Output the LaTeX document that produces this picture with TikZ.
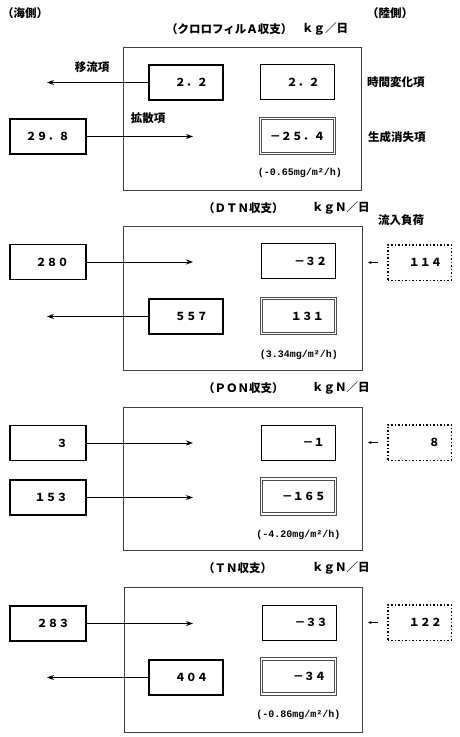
\documentclass[tikz,border=0pt]{standalone}
\usepackage{fontspec}
\usepackage{tikz}
\usetikzlibrary{arrows.meta}
\newfontfamily\jp{Noto Sans CJK JP}
\setmonofont{Liberation Mono}

\begin{document}
\begin{tikzpicture}[x=1pt,y=1pt,yscale=-1,
  font=\jp\bfseries\fontsize{11}{13}\selectfont,
  panel/.style={draw=black!75, line width=0.9pt},
  lftbox/.style={draw, line width=1.7pt, minimum width=76pt, minimum height=35pt, inner sep=0pt},
  midbox/.style={draw, line width=1.7pt, minimum width=74.5pt, minimum height=35.5pt, inner sep=0pt},
  rgtbox/.style={draw, line width=0.8pt, minimum width=74pt, minimum height=35pt, inner sep=0pt},
  dblbox/.style={draw=black!70, line width=0.9pt, double, double distance=1.5pt, minimum width=74pt, minimum height=35pt, inner sep=0pt},
  dotbox/.style={draw, dotted, line width=1.5pt, minimum width=63.5pt, minimum height=35.5pt, inner sep=0pt},
  val/.style={anchor=east, inner sep=0pt},
  tit/.style={anchor=west, inner sep=0pt, font=\jp\bfseries\fontsize{11.5}{13}\selectfont},
  lab/.style={inner sep=0pt, font=\jp\bfseries\fontsize{11.5}{13}\selectfont},
  rate/.style={inner sep=0pt, font=\ttfamily\bfseries\fontsize{10}{12}\selectfont},
  flow/.style={line width=0.9pt, -{Stealth[length=7pt,width=5pt]}},
  inflow/.style={line width=0.8pt, -{Stealth[length=3.5pt,width=3pt]}}]

\useasboundingbox (0,0) rectangle (460,737);

\node[lab] (sea) at (25,13) {（海側）};
\node[lab] (land) at (390,13) {（陸側）};

% chlorophyll a
\node[tit] (t1) at (166,29) {（クロロフィルＡ収支）};
\node[tit] (u1) at (302,29) {ｋｇ／日};
\draw[panel] (123,47) rectangle (361,190);

\node[midbox] (adv1) at (186,82.5) {};
\node[val] (adv1v) at ([xshift=-16]adv1.east) {２．２};
\node[rgtbox] (chg1) at (297.5,82) {};
\node[val] (chg1v) at ([xshift=-15]chg1.east) {２．２};
\node[lftbox] (dif1) at (48,136.5) {};
\node[val] (dif1v) at ([xshift=-17]dif1.east) {２９．８};
\node[dblbox] (gen1) at (297.5,136) {};
\node[val] (gen1v) at ([xshift=-10]gen1.east) {－２５．４};

\node[lab] (advlab) at (92,67) {移流項};
\node[lab] (diflab) at (148,118) {拡散項};
\node[lab, anchor=west] (chglab) at (367,82) {時間変化項};
\node[lab, anchor=west] (genlab) at (368,137) {生成消失項};
\node[rate] (rate1) at (300,173) {(-0.65mg/m²/h)};

\coordinate (adv1tip) at (47,82.5);
\coordinate (dif1tip) at (193,136.5);
\draw[flow] (adv1) -- (adv1tip);
\draw[flow] (dif1) -- (dif1tip);

% DTN
\node[tit] (t2) at (203,208) {（ＤＴＮ収支）};
\node[tit] (u2) at (312,208) {ｋｇＮ／日};
\node[lab] (loadlab) at (401,220) {流入負荷};
\draw[panel] (123,226) rectangle (362,370);

\node[lftbox] (dif2) at (48,262) {};
\node[val] (dif2v) at ([xshift=-18]dif2.east) {２８０};
\node[rgtbox] (chg2) at (298,261) {};
\node[val] (chg2v) at ([xshift=-8]chg2.east) {－３２};
\node[dotbox] (load2) at (419.5,262.5) {};
\node[val] (load2v) at ([xshift=-10]load2.east) {１１４};
\node[midbox] (adv2) at (186,316.5) {};
\node[val] (adv2v) at ([xshift=-16]adv2.east) {５５７};
\node[dblbox] (gen2) at (298.5,316) {};
\node[val] (gen2v) at ([xshift=-12]gen2.east) {１３１};
\node[rate] (rate2) at (299,355) {(3.34mg/m²/h)};

\coordinate (dif2tip) at (193,262);
\coordinate (adv2tip) at (47,316.5);
\coordinate (in2) at (378,262.5);
\coordinate (in2tip) at (368,262.5);
\draw[flow] (dif2) -- (dif2tip);
\draw[flow] (adv2) -- (adv2tip);
\draw[inflow] (in2) -- (in2tip);

% PON
\node[tit] (t3) at (203,388) {（ＰＯＮ収支）};
\node[tit] (u3) at (312,388) {ｋｇＮ／日};
\draw[panel] (123,407) rectangle (362,550);

\node[lftbox] (dif3) at (48,443) {};
\node[val] (dif3v) at ([xshift=-19]dif3.east) {３};
\node[rgtbox] (chg3) at (298.5,442.5) {};
\node[val] (chg3v) at ([xshift=-11]chg3.east) {－１};
\node[dotbox] (load3) at (419.5,442.5) {};
\node[val] (load3v) at ([xshift=-12]load3.east) {８};
\node[lftbox] (dif3b) at (48,497.5) {};
\node[val] (dif3bv) at ([xshift=-19]dif3b.east) {１５３};
\node[dblbox] (gen3) at (298.5,496.5) {};
\node[val] (gen3v) at ([xshift=-10]gen3.east) {－１６５};
\node[rate] (rate3) at (298.5,535) {(-4.20mg/m²/h)};

\coordinate (dif3tip) at (193,443);
\coordinate (dif3btip) at (193,497.5);
\coordinate (in3) at (378,442.5);
\coordinate (in3tip) at (368,442.5);
\draw[flow] (dif3) -- (dif3tip);
\draw[flow] (dif3b) -- (dif3btip);
\draw[inflow] (in3) -- (in3tip);

% TN
\node[tit] (t4) at (203,568) {（ＴＮ収支）};
\node[tit] (u4) at (312,568) {ｋｇＮ／日};
\draw[panel] (124,587) rectangle (362,732);

\node[lftbox] (dif4) at (48,623.5) {};
\node[val] (dif4v) at ([xshift=-17]dif4.east) {２８３};
\node[rgtbox] (chg4) at (299.5,622.5) {};
\node[val] (chg4v) at ([xshift=-9]chg4.east) {－３３};
\node[dotbox] (load4) at (419.5,622.5) {};
\node[val] (load4v) at ([xshift=-10]load4.east) {１２２};
\node[midbox] (adv4) at (186,677.5) {};
\node[val] (adv4v) at ([xshift=-16]adv4.east) {４０４};
\node[dblbox] (gen4) at (298.5,676.5) {};
\node[val] (gen4v) at ([xshift=-10]gen4.east) {－３４};
\node[rate] (rate4) at (298.5,715) {(-0.86mg/m²/h)};

\coordinate (dif4tip) at (193,623.5);
\coordinate (adv4tip) at (47,677.5);
\coordinate (in4) at (378,622.5);
\coordinate (in4tip) at (368,622.5);
\draw[flow] (dif4) -- (dif4tip);
\draw[flow] (adv4) -- (adv4tip);
\draw[inflow] (in4) -- (in4tip);

\end{tikzpicture}
\end{document}
